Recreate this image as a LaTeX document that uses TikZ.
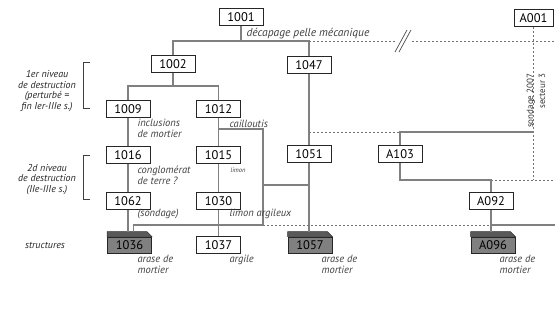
\documentclass[tikz,border=0pt]{standalone}
\usepackage{fontspec}
\setmainfont{PT Sans}
\usetikzlibrary{calc}

\begin{document}
\begin{tikzpicture}[x=1pt, y=-1pt,
    us/.style={draw=black!85, fill=white, line width=0.8pt, minimum width=44pt,
      minimum height=17pt, inner sep=0pt, font=\fontsize{12.5}{14}\selectfont},
    struct/.style={us, fill=black!50, minimum height=16pt},
    lien/.style={draw=black!50, line width=1.3pt},
    lienpt/.style={draw=black!55, line width=1pt, dash pattern=on 2pt off 2pt},
    note/.style={anchor=west, align=left, text=black!75,
      font=\fontsize{10.5}{11}\selectfont\itshape},
    niveau/.style={align=center, text=black!85,
      font=\fontsize{10}{10.5}\selectfont\itshape}]
    \useasboundingbox (0,0) rectangle (555,327);

    % unites stratigraphiques
    \node[us] (u1001) at (241,17) {1001};
    \node[us, minimum width=39pt] (uA001) at (533.5,18) {A001};
    \node[us] (u1002) at (173,64) {1002};
    \node[us] (u1047) at (309,65) {1047};
    \node[us] (u1009) at (128,109) {1009};
    \node[us] (u1012) at (218.5,109) {1012};
    \node[us] (u1016) at (128,155) {1016};
    \node[us] (u1015) at (218.5,155) {1015};
    \node[us] (u1051) at (309,154) {1051};
    \node[us] (uA103) at (400,154) {A103};
    \node[us] (u1062) at (128,201) {1062};
    \node[us] (u1030) at (218.5,201) {1030};
    \node[us] (uA092) at (491,201) {A092};
    \node[us] (u1037) at (218.5,245) {1037};

    % structures
    \node[struct] (s1036) at (129.5,245) {1036};
    \node[struct] (s1057) at (310,245) {1057};
    \node[struct] (sA096) at (493,245) {A096};
    \foreach \s in {s1036,s1057,sA096}
      \filldraw[fill=black!65, draw=black!80, line width=0.5pt]
        (\s.north west) -- ++(0,-5) -- ($(\s.north east)+(-5,-5)$)
        -- (\s.north east) -- cycle;
    \coordinate (t1036) at ($(s1036.north)+(0,-5)$);
    \coordinate (t1057) at ($(s1057.north)+(0,-5)$);
    \coordinate (tA096) at ($(sA096.north)+(0,-5)$);

    % niveaux
    \coordinate (h1) at (0,41);
    \coordinate (h2) at (0,86);
    \coordinate (h6) at (0,132);
    \coordinate (h5) at (0,180);
    \coordinate (h3) at (0,185);
    \coordinate (h4) at (0,225);
    \coordinate (ca) at (263,129);
    \coordinate (c1) at (395,41);
    \coordinate (c2) at (412,41);
    \coordinate (bord1) at (555,41);
    \coordinate (bord5) at (555,180);
    \coordinate (bord4) at (555,225);

    % decapage
    \draw[lien] (u1001.south) -- (u1001.south |- h1);
    \draw[lien] (u1002.north) -- (u1002.north |- h1) -- (u1047.north |- h1) -- (u1047.north);
    \draw[lienpt] (u1047.north |- h1) -- (c1);
    \draw[lienpt] (c2) -- (bord1);
    \draw[black!70, line width=0.7pt] (395,52) -- (407,30) (399,52) -- (411,30);

    % sondage 2007
    \draw[lienpt] (uA001.south) -- (uA001.south |- h5);
    \draw[lienpt] (uA092.north |- h5) -- (bord5);
    \node[rotate=90, anchor=east, align=right, text=black!80,
      font=\fontsize{9}{12}\selectfont] (sondage) at (536,70) {sondage 2007\\secteur 3};

    % premier niveau
    \draw[lien] (u1002.south) -- (u1002.south |- h2);
    \draw[lien] (u1009.north) -- (u1009.north |- h2) -- (u1012.north |- h2) -- (u1012.north);
    \draw[lien] (u1009) -- (u1016);
    \draw[lien] (u1016) -- (u1062);
    \draw[lien] (u1062.south) -- (u1062.south |- t1036);
    \draw[lien] (u1012) -- (u1015);
    \draw[lien] (u1015) -- (u1030);
    \draw[lien] (u1030) -- (u1037);
    \draw[lien] (u1047) -- (u1051);
    \draw[lien] (u1051.south) -- (u1051.south |- t1057);

    % cailloutis
    \draw[lien] (u1012.south |- ca) -- (ca) -- (ca |- h4) -| ($(t1036)+(4,0)$);
    \draw[lien] (ca |- h3) -- (u1051.south |- h3);
    \draw[lienpt] (ca |- h4) -- (uA092.south |- h4);
    \draw[lien] (uA092.south |- h4) -- (bord4);

    % A103 - A092
    \draw[lienpt] (u1047.south |- h6) -- (uA103.north |- h6);
    \draw[lien] (uA103.north) -- (uA103.north |- h6) -- (uA001.south |- h6);
    \draw[lien] (uA103.south) -- (uA103.south |- h5) -- (uA092.north |- h5) -- (uA092.north);
    \draw[lien] (uA092.south) -- (uA092.south |- tA096);

    % descriptions
    \node[note, font=\fontsize{11.5}{12}\selectfont\itshape] (n1001) at (243,34) {décapage pelle mécanique};
    \node[note] (n1009) at (134,128) {inclusions\\de mortier};
    \node[note] (n1012) at (226,124) {cailloutis};
    \node[note] (n1016) at (134,175.5) {conglomérat\\de terre ?};
    \node[note, font=\fontsize{6.5}{7}\selectfont\itshape] (n1015) at (227,170) {limon};
    \node[note] (n1062) at (134,214) {(sondage)};
    \node[note] (n1030) at (226,214) {limon argileux};
    \node[note] (n1036) at (134,264.5) {arase de\\mortier};
    \node[note] (n1037) at (226,260) {argile};
    \node[note] (n1057) at (318,264.5) {arase de\\mortier};
    \node[note] (nA096) at (496,264.5) {arase de\\mortier};

    % phases
    \node[niveau] (niv1) at (47,91) {1er niveau\\de destruction\\(perturbé =\\fin Ier-IIIe s.)};
    \node[niveau] (niv2) at (47,179.5) {2d niveau\\de destruction\\(IIe-IIIe s.)};
    \node[niveau] (struc) at (45,245) {structures};
    \draw[black!75, line width=0.9pt] (90,62) -- (83,62) -- (83,108) -- (90,108);
    \draw[black!75, line width=0.9pt] (90,155) -- (83,155) -- (83,199) -- (90,199);
\end{tikzpicture}
\end{document}
